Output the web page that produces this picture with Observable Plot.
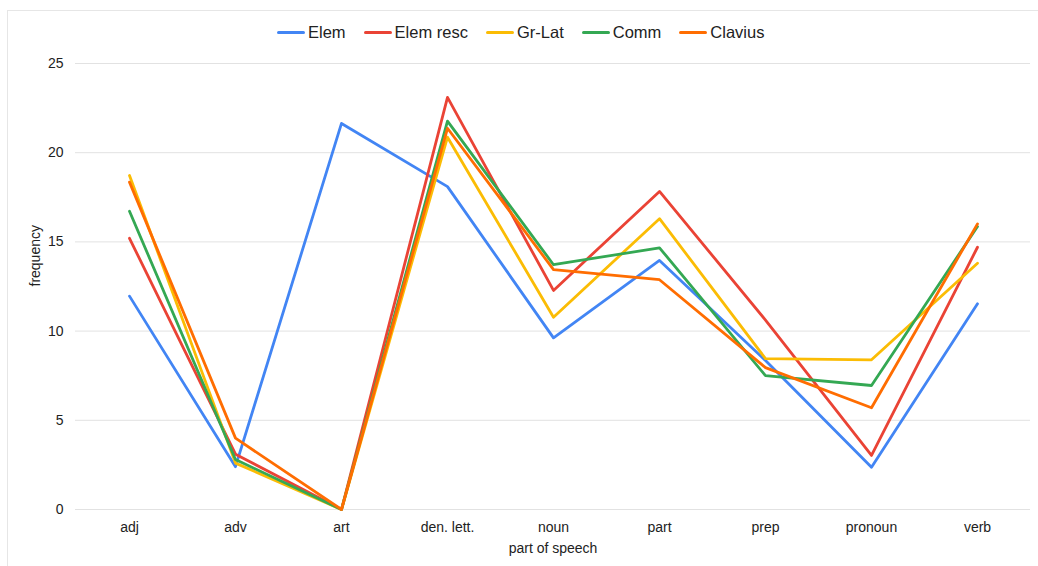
<!DOCTYPE html>
<html>
<head>
<meta charset="utf-8">
<script src="https://cdn.jsdelivr.net/npm/d3@7"></script>
<script src="https://cdn.jsdelivr.net/npm/@observablehq/plot@0.6"></script>
<style>
  body { margin: 0; background: #fff; font-family: Arial, "Liberation Sans", sans-serif; }
  #wrap { position: relative; width: 1038px; height: 566px; overflow: hidden; }
  #frame { position: absolute; left: 7px; top: 10px; width: 1100px; height: 600px; border: 1px solid #e6e6e6; box-sizing: border-box; }
  #legend { position: relative; height: 50px; display: flex; align-items: center; padding-left: 277px; padding-top: 14px; box-sizing: border-box; font-size: 16.5px; color: #222; }
  .item { display: flex; align-items: center; margin-right: 18px; }
  .sw { width: 28px; height: 3px; border-radius: 2px; margin-right: 3px; }
  #chart { position: relative; }
</style>
</head>
<body>
<div id="wrap">
  <div id="frame"></div>
  <div id="legend"></div>
  <div id="chart"></div>
</div>
<script>
const categories = ["adj", "adv", "art", "den. lett.", "noun", "part", "prep", "pronoun", "verb"];
const seriesNames = ["Elem", "Elem resc", "Gr-Lat", "Comm", "Clavius"];
const seriesColors = ["#4285F4", "#EA4335", "#FBBC04", "#34A853", "#FF6D01"];
const elem     = [11.96, 2.4, 21.64, 18.1, 9.62, 13.96, 8.35, 2.37, 11.53];
const elemResc = [15.2, 3.1, 0, 23.1, 12.28, 17.83, 10.62, 3.03, 14.7];
const grLat    = [18.72, 2.6, 0, 20.87, 10.78, 16.3, 8.46, 8.39, 13.8];
const comm     = [16.72, 2.8, 0, 21.77, 13.72, 14.67, 7.5, 6.95, 15.86];
const clavius  = [18.35, 4.0, 0, 21.37, 13.45, 12.88, 7.95, 5.7, 16.01];
const yTicks = [0, 5, 10, 15, 20, 25];
const xTitle = "part of speech";
const yTitle = "frequency";

const seriesValues = [elem, elemResc, grLat, comm, clavius];
const rows = [];
seriesNames.forEach((s, i) => {
  categories.forEach((c, j) => rows.push({series: s, pos: c, value: seriesValues[i][j]}));
});

// legend
const legend = document.getElementById("legend");
seriesNames.forEach((s, i) => {
  const it = document.createElement("div");
  it.className = "item";
  const sw = document.createElement("div");
  sw.className = "sw";
  sw.style.background = seriesColors[i];
  const t = document.createElement("span");
  t.textContent = s;
  it.appendChild(sw); it.appendChild(t);
  legend.appendChild(it);
});

const chart = Plot.plot({
  width: 1038,
  height: 516,
  marginTop: 13,
  marginBottom: 57,
  marginLeft: 75,
  marginRight: 8,
  style: {fontFamily: "Arial, 'Liberation Sans', sans-serif", fontSize: "14px", color: "#222", background: "transparent"},
  x: {type: "point", domain: categories, padding: 0.5},
  y: {domain: [0, 25]},
  color: {domain: seriesNames, range: seriesColors},
  marks: [
    Plot.gridY(yTicks, {stroke: "#e2e2e2", strokeOpacity: 1, strokeWidth: 1}),
    Plot.axisY(yTicks, {tickSize: 0, tickPadding: 12, label: null, fontSize: 14}),
    Plot.axisX({tickSize: 0, tickPadding: 13, label: null, fontSize: 14}),
    Plot.text([yTitle], {frameAnchor: "left", text: d => d, rotate: -90, dx: -40, fontSize: 14, fill: "#222"}),
    Plot.text([xTitle], {frameAnchor: "bottom", text: d => d, dy: 43, fontSize: 14, fill: "#222"}),
    Plot.line(rows, {x: "pos", y: "value", z: "series", stroke: "series", strokeWidth: 2.8, strokeLinejoin: "round", strokeLinecap: "round"})
  ]
});
document.getElementById("chart").appendChild(chart);
</script>
</body>
</html>
